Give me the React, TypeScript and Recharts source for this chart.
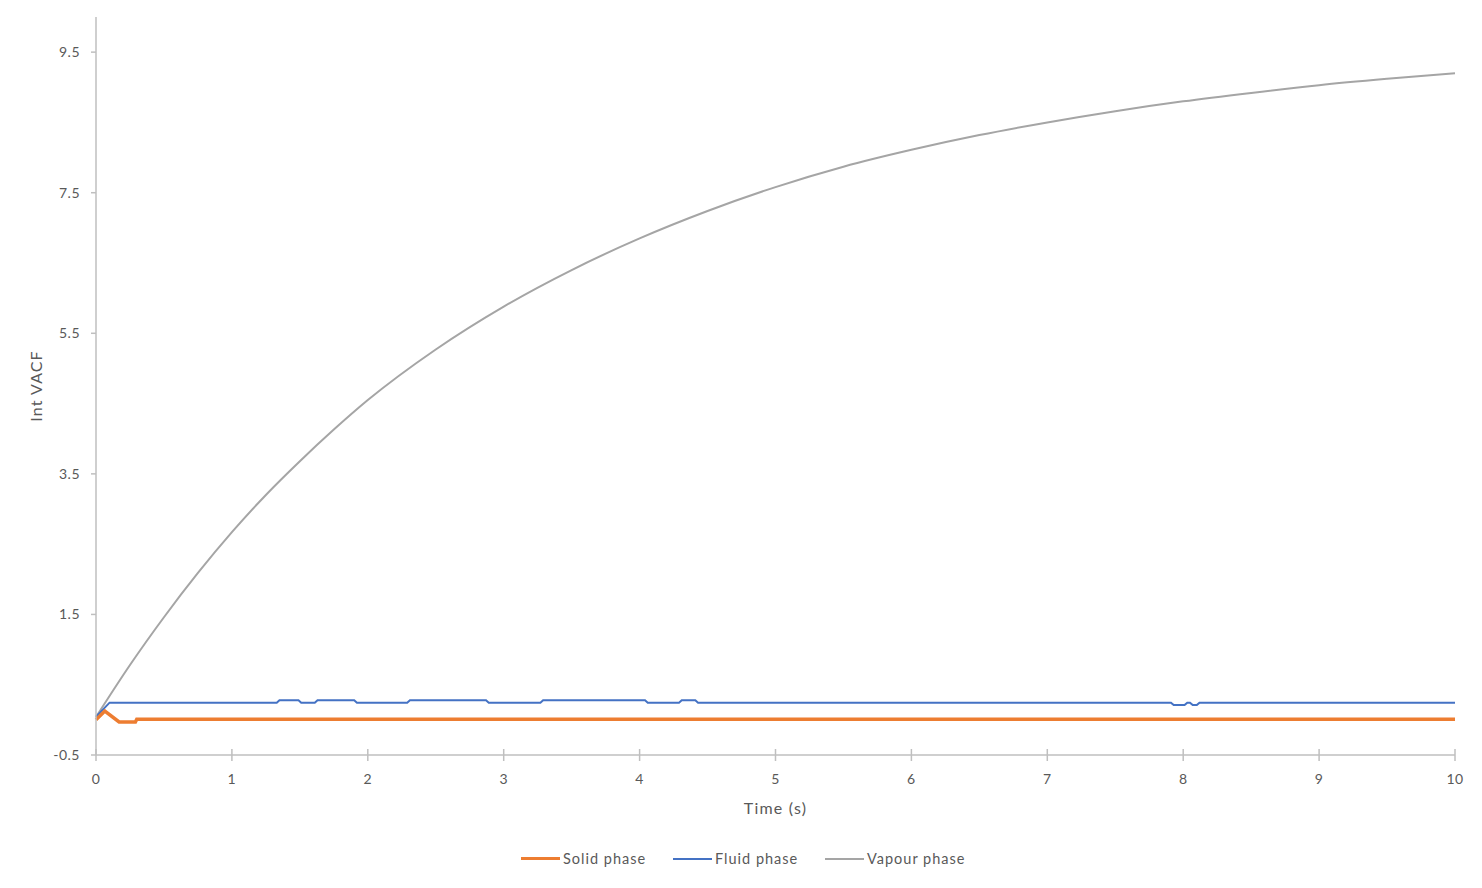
import React from "react";
import { LineChart, Line, XAxis, YAxis } from "recharts";

// Int VACF vs time
const solidPhase = [
  { t: 0, v: 0.0 },
  { t: 0.065, v: 0.125 },
  { t: 0.17, v: -0.03 },
  { t: 0.29, v: -0.03 },
  { t: 0.3, v: 0.01 },
  { t: 10, v: 0.01 },
];

const fluidPhase = [
  { t: 0, v: 0.045 },
  { t: 0.1, v: 0.245 },
  { t: 1.33, v: 0.245 },
  { t: 1.35, v: 0.28 },
  { t: 1.49, v: 0.28 },
  { t: 1.51, v: 0.245 },
  { t: 1.61, v: 0.245 },
  { t: 1.63, v: 0.28 },
  { t: 1.9, v: 0.28 },
  { t: 1.92, v: 0.245 },
  { t: 2.29, v: 0.245 },
  { t: 2.31, v: 0.28 },
  { t: 2.87, v: 0.28 },
  { t: 2.89, v: 0.245 },
  { t: 3.27, v: 0.245 },
  { t: 3.29, v: 0.28 },
  { t: 4.04, v: 0.28 },
  { t: 4.06, v: 0.245 },
  { t: 4.29, v: 0.245 },
  { t: 4.31, v: 0.28 },
  { t: 4.41, v: 0.28 },
  { t: 4.43, v: 0.245 },
  { t: 7.91, v: 0.245 },
  { t: 7.93, v: 0.21 },
  { t: 8.01, v: 0.21 },
  { t: 8.03, v: 0.245 },
  { t: 8.05, v: 0.245 },
  { t: 8.07, v: 0.21 },
  { t: 8.1, v: 0.21 },
  { t: 8.12, v: 0.245 },
  { t: 10, v: 0.245 },
];

const vapourPhase = [
  { t: 0, v: 0.04 },
  { t: 0.25, v: 0.78 },
  { t: 0.5, v: 1.46 },
  { t: 0.75, v: 2.09 },
  { t: 1, v: 2.67 },
  { t: 1.25, v: 3.2 },
  { t: 1.5, v: 3.68 },
  { t: 1.75, v: 4.13 },
  { t: 2, v: 4.55 },
  { t: 2.5, v: 5.27 },
  { t: 3, v: 5.88 },
  { t: 3.5, v: 6.4 },
  { t: 4, v: 6.85 },
  { t: 4.5, v: 7.24 },
  { t: 5, v: 7.58 },
  { t: 5.5, v: 7.87 },
  { t: 6, v: 8.11 },
  { t: 6.5, v: 8.32 },
  { t: 7, v: 8.5 },
  { t: 7.5, v: 8.66 },
  { t: 8, v: 8.8 },
  { t: 8.5, v: 8.92 },
  { t: 9, v: 9.03 },
  { t: 9.5, v: 9.12 },
  { t: 10, v: 9.2 },
];

const xTicks = [0, 1, 2, 3, 4, 5, 6, 7, 8, 9, 10];
const yTicks = [-0.5, 1.5, 3.5, 5.5, 7.5, 9.5];

const FONT = "Lato, 'Open Sans', sans-serif";
const TEXT = "#595959";
const AXIS = "#bfbfbf";

const legendItems = [
  { name: "Solid phase", color: "#ED7D31", width: 3.5 },
  { name: "Fluid phase", color: "#4472C4", width: 2 },
  { name: "Vapour phase", color: "#A5A5A5", width: 2 },
];

function XTick({ x, y, payload }: any) {
  return (
    <g>
      <line x1={x} x2={x} y1={y - 6} y2={y + 6} stroke={AXIS} strokeWidth={1.5} />
      <text x={x} y={y + 29} textAnchor="middle" fill={TEXT} fontSize={14} fontFamily={FONT} letterSpacing={0.5}>
        {payload.value}
      </text>
    </g>
  );
}

function YTick({ x, y, payload }: any) {
  return (
    <g>
      <line x1={x - 5} x2={x} y1={y} y2={y} stroke={AXIS} strokeWidth={1.5} />
      <text x={x - 16} y={y + 5} textAnchor="end" fill={TEXT} fontSize={14} fontFamily={FONT} letterSpacing={0.5}>
        {payload.value}
      </text>
    </g>
  );
}

export default function App() {
  return (
    <div style={{ position: "relative", width: 1466, height: 872, fontFamily: FONT }}>
      <LineChart width={1466} height={872} margin={{ top: 9, right: 19, bottom: 65, left: 8 }}>
        <XAxis
          type="number"
          dataKey="t"
          domain={[0, 10]}
          ticks={xTicks}
          allowDuplicatedCategory={false}
          stroke={AXIS}
          strokeWidth={1.5}
          tickLine={false}
          tickSize={0}
          tickMargin={0}
          tick={<XTick />}
          height={60}
          label={{
            content: ({ viewBox }: any) => (
              <text
                x={viewBox.x + viewBox.width / 2}
                y={viewBox.y + 59}
                textAnchor="middle"
                fill={TEXT}
                fontSize={16}
                letterSpacing={1.2}
                fontFamily={FONT}
              >
                Time (s)
              </text>
            ),
          }}
        />
        <YAxis
          type="number"
          domain={[-0.5, 10]}
          ticks={yTicks}
          stroke={AXIS}
          strokeWidth={1.5}
          tickLine={false}
          tickSize={0}
          tickMargin={0}
          tick={<YTick />}
          width={80}
          label={{
            content: ({ viewBox }: any) => {
              const cx = viewBox.x + 19;
              const cy = viewBox.y + viewBox.height / 2;
              return (
                <text
                  x={cx}
                  y={cy}
                  transform={`rotate(-90 ${cx} ${cy})`}
                  textAnchor="middle"
                  dominantBaseline="central"
                  fill={TEXT}
                  fontSize={16}
                  letterSpacing={1.1}
                  fontFamily={FONT}
                >
                  Int VACF
                </text>
              );
            },
          }}
        />
        <Line
          data={vapourPhase}
          dataKey="v"
          name="Vapour phase"
          type="monotone"
          stroke="#A5A5A5"
          strokeWidth={2}
          dot={false}
          isAnimationActive={false}
        />
        <Line
          data={fluidPhase}
          dataKey="v"
          name="Fluid phase"
          type="linear"
          stroke="#4472C4"
          strokeWidth={2}
          dot={false}
          isAnimationActive={false}
        />
        <Line
          data={solidPhase}
          dataKey="v"
          name="Solid phase"
          type="linear"
          stroke="#ED7D31"
          strokeWidth={3.5}
          dot={false}
          isAnimationActive={false}
        />
      </LineChart>

      {/* legend */}
      <div
        style={{
          position: "absolute",
          top: 842,
          left: 513,
          display: "flex",
          alignItems: "center",
          fontSize: 14.5,
          letterSpacing: 1,
          color: TEXT,
          whiteSpace: "nowrap",
        }}
      >
        {legendItems.map((item) => (
          <div key={item.name} style={{ display: "flex", alignItems: "center", width: 152 }}>
            <span
              style={{
                display: "inline-block",
                width: 39,
                height: item.width,
                background: item.color,
                marginRight: 3,
              }}
            />
            <span>{item.name}</span>
          </div>
        ))}
      </div>
    </div>
  );
}
